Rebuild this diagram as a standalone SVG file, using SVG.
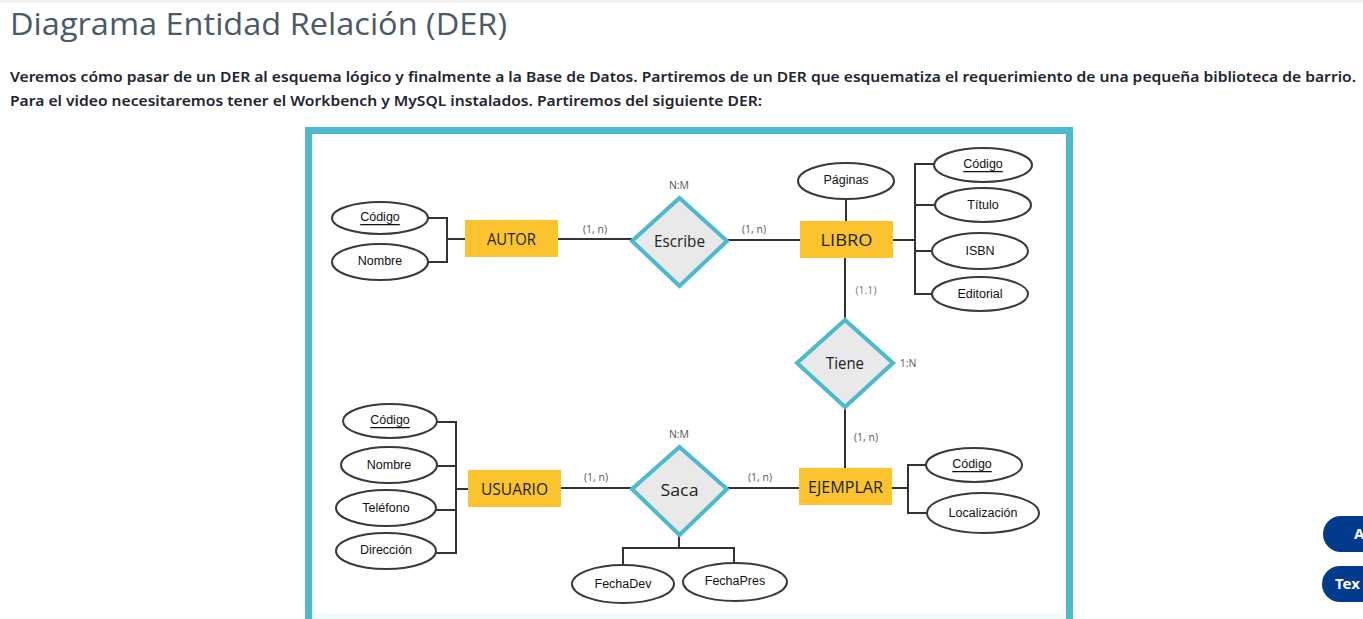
<svg xmlns="http://www.w3.org/2000/svg" width="1363" height="619" viewBox="0 0 1363 619">
<defs>
<style>
.title{font-family:"Open Sans","Liberation Sans",sans-serif;font-size:31px;fill:#4a5a68;}
.para{font-family:"Noto Sans","Liberation Sans",sans-serif;font-size:14.5px;font-weight:600;fill:#222430;}
.ent rect{fill:#fbc32e;}
.ent text,.rel text{font-family:"Open Sans","Liberation Sans",sans-serif;font-size:16px;fill:#222;text-anchor:middle;dominant-baseline:central;}
.rel polygon{fill:#e9e9e9;stroke:#4cb9cc;stroke-width:4;stroke-linejoin:miter;}
.att ellipse{fill:#fff;stroke:#3a3a3a;stroke-width:2;}
.att text{font-family:"Liberation Sans",Arial,sans-serif;font-size:12.5px;fill:#111;text-anchor:middle;dominant-baseline:central;}
.key{text-decoration:underline;}
.card{font-family:"Open Sans","Liberation Sans",sans-serif;font-size:10.5px;fill:#555;text-anchor:middle;}
#connectors path,#connectors line{stroke:#333;stroke-width:2;fill:none;}
.btn rect{fill:#023a8c;}
.btn text{font-family:"Noto Sans","Liberation Sans",sans-serif;font-size:15px;font-weight:700;fill:#fff;}
</style>
</defs>
<rect width="1363" height="619" fill="#ffffff"/>
<rect width="1363" height="3" fill="#f2f2f2"/>
<text class="title" x="10" y="35" textLength="497" lengthAdjust="spacingAndGlyphs">Diagrama Entidad Relación (DER)</text>
<text class="para" x="10" y="82" textLength="1346" lengthAdjust="spacingAndGlyphs">Veremos cómo pasar de un DER al esquema lógico y finalmente a la Base de Datos. Partiremos de un DER que esquematiza el requerimiento de una pequeña biblioteca de barrio.</text>
<text class="para" x="10" y="106" textLength="752" lengthAdjust="spacingAndGlyphs">Para el video necesitaremos tener el Workbench y MySQL instalados. Partiremos del siguiente DER:</text>

<!-- frame -->
<rect x="308.5" y="130.5" width="761" height="500" fill="#ffffff" stroke="#4cb9cc" stroke-width="7"/>
<rect x="312" y="613" width="753" height="6" fill="#effbfc"/>

<g id="connectors">
<!-- AUTOR attributes -->
<path d="M428,218 H447 V262 H428 M447,239 H465"/>
<line x1="558" y1="239" x2="632" y2="239"/>
<line x1="727" y1="240" x2="800" y2="240"/>
<!-- LIBRO -->
<line x1="846" y1="199" x2="846" y2="221"/>
<path d="M893,240 H915 M934,164 H915 V294 H932 M915,205 H936 M915,251 H932"/>
<line x1="845" y1="258" x2="845" y2="320"/>
<line x1="845" y1="407" x2="845" y2="468"/>
<!-- EJEMPLAR -->
<path d="M892,488 H908 M926,465 H908 V513 H927"/>
<line x1="727" y1="488" x2="799" y2="488"/>
<line x1="561" y1="488" x2="632" y2="488"/>
<!-- USUARIO -->
<path d="M437,422 H456 V553 H436 M437,466 H456 M436,510 H456 M456,489 H468"/>
<!-- Saca attributes -->
<path d="M679,535 V548 M623,566 V548 H734 V563"/>
</g>

<g class="card">
<text x="595" y="233">(1, n)</text>
<text x="754" y="233">(1, n)</text>
<text x="679" y="189">N:M</text>
<text x="866" y="294" fill="#777">(1.1)</text>
<text x="908" y="367">1:N</text>
<text x="866" y="441">(1, n)</text>
<text x="596" y="481">(1, n)</text>
<text x="760" y="481">(1, n)</text>
<text x="679" y="438">N:M</text>
</g>

<g id="autor" class="ent"><rect x="465" y="220" width="93" height="37"/><text x="511.5" y="238.5" textLength="49" lengthAdjust="spacingAndGlyphs">AUTOR</text></g>
<g id="autor-codigo" class="att"><ellipse cx="380" cy="218" rx="48" ry="16"/><text x="380" y="217" class="key">Código</text></g>
<g id="autor-nombre" class="att"><ellipse cx="380" cy="262" rx="48" ry="18"/><text x="380" y="261">Nombre</text></g>

<g id="escribe" class="rel"><polygon points="679.5,198 727,241 679.5,286 632,241"/><text x="679.5" y="241" textLength="51" lengthAdjust="spacingAndGlyphs">Escribe</text></g>

<g id="libro" class="ent"><rect x="800" y="221" width="93" height="37"/><text x="846.5" y="240" textLength="52" lengthAdjust="spacingAndGlyphs">LIBRO</text></g>
<g id="libro-paginas" class="att"><ellipse cx="846" cy="181" rx="48" ry="18"/><text x="846" y="180">Páginas</text></g>
<g id="libro-codigo" class="att"><ellipse cx="983" cy="165" rx="49" ry="17"/><text x="983" y="164" class="key">Código</text></g>
<g id="libro-titulo" class="att"><ellipse cx="983" cy="205" rx="48" ry="17"/><text x="983" y="205">Título</text></g>
<g id="libro-isbn" class="att"><ellipse cx="980" cy="251" rx="48" ry="18"/><text x="980" y="251">ISBN</text></g>
<g id="libro-editorial" class="att"><ellipse cx="980" cy="294" rx="48" ry="17"/><text x="980" y="294">Editorial</text></g>

<g id="tiene" class="rel"><polygon points="845,320 893,363 845,407 797,363"/><text x="845" y="363" textLength="38" lengthAdjust="spacingAndGlyphs">Tiene</text></g>

<g id="ejemplar" class="ent"><rect x="799" y="468" width="93" height="37"/><text x="845.5" y="487" textLength="75" lengthAdjust="spacingAndGlyphs">EJEMPLAR</text></g>
<g id="ejemplar-codigo" class="att"><ellipse cx="974" cy="465" rx="48" ry="17"/><text x="972" y="464" class="key">Código</text></g>
<g id="ejemplar-localizacion" class="att"><ellipse cx="983" cy="513" rx="56" ry="20"/><text x="983" y="513">Localización</text></g>

<g id="saca" class="rel"><polygon points="679.5,447 727,489 679.5,535 632,489"/><text x="679.5" y="490" textLength="38" lengthAdjust="spacingAndGlyphs">Saca</text></g>
<g id="saca-fechadev" class="att"><ellipse cx="623" cy="584" rx="51" ry="19"/><text x="623" y="584">FechaDev</text></g>
<g id="saca-fechapres" class="att"><ellipse cx="735" cy="582" rx="52" ry="19"/><text x="735" y="581">FechaPres</text></g>

<g id="usuario" class="ent"><rect x="468" y="470" width="93" height="37"/><text x="514.5" y="489" textLength="67" lengthAdjust="spacingAndGlyphs">USUARIO</text></g>
<g id="usuario-codigo" class="att"><ellipse cx="390" cy="421" rx="47" ry="17"/><text x="390" y="420" class="key">Código</text></g>
<g id="usuario-nombre" class="att"><ellipse cx="389" cy="465" rx="48" ry="18"/><text x="389" y="465">Nombre</text></g>
<g id="usuario-telefono" class="att"><ellipse cx="386" cy="508" rx="50" ry="18"/><text x="386" y="508">Teléfono</text></g>
<g id="usuario-direccion" class="att"><ellipse cx="386" cy="551" rx="50" ry="18"/><text x="386" y="550">Dirección</text></g>

<g id="btn-a" class="btn"><rect x="1323" y="516" width="80" height="36" rx="18"/><text x="1354" y="539">A</text></g>
<g id="btn-text" class="btn"><rect x="1322" y="566" width="80" height="36" rx="18"/><text x="1335" y="589">Tex</text></g>
</svg>
